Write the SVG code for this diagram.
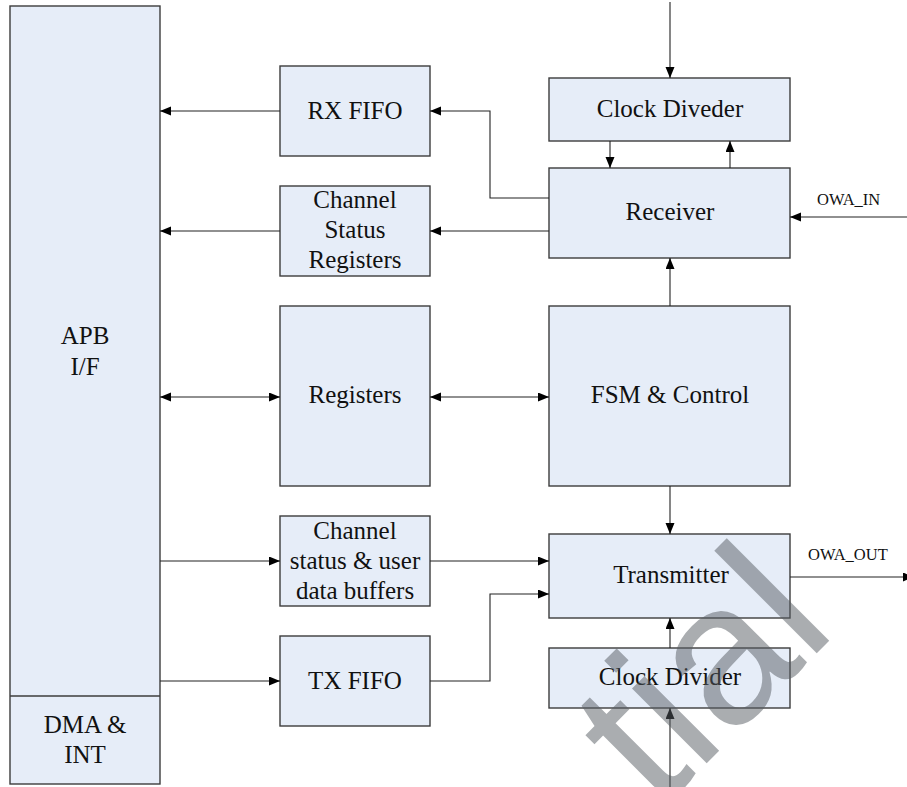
<svg xmlns="http://www.w3.org/2000/svg" width="907" height="787" viewBox="0 0 907 787">
<style>
.box{fill:#E6EDF8;stroke:#3c3c3c;stroke-width:1.4}
.t{font-family:"Liberation Serif","Times New Roman",serif;font-size:25px;fill:#111;text-anchor:middle}
.s{font-family:"Liberation Serif","Times New Roman",serif;font-size:16.5px;fill:#111}
.c{fill:none;stroke:#222;stroke-width:1.1}
</style>
<defs>
<marker id="ah" markerUnits="userSpaceOnUse" markerWidth="12" markerHeight="10" refX="11" refY="4.5" orient="auto-start-reverse">
<path d="M0,0 L11,4.5 L0,9 z" fill="#000"/>
</marker>
</defs>
<rect width="907" height="787" fill="#fff"/>

<g id="apb">
<rect class="box" x="10" y="6" width="150" height="778"/>
<line x1="10" y1="696" x2="160" y2="696" stroke="#3c3c3c" stroke-width="1.4"/>
<text class="t" x="85" y="344">APB</text>
<text class="t" x="85" y="375">I/F</text>
<text class="t" x="85" y="733">DMA &amp;</text>
<text class="t" x="85" y="763">INT</text>
</g>

<g id="rxfifo">
<rect class="box" x="280" y="66" width="150" height="90"/>
<text class="t" x="355" y="119">RX FIFO</text>
</g>

<g id="chstatus">
<rect class="box" x="280" y="186" width="150" height="90"/>
<text class="t" x="355" y="208">Channel</text>
<text class="t" x="355" y="238">Status</text>
<text class="t" x="355" y="268">Registers</text>
</g>

<g id="registers">
<rect class="box" x="280" y="306" width="150" height="180"/>
<text class="t" x="355" y="403">Registers</text>
</g>

<g id="chbuffers">
<rect class="box" x="280" y="516" width="150" height="90"/>
<text class="t" x="355" y="539">Channel</text>
<text class="t" x="355" y="569">status &amp; user</text>
<text class="t" x="355" y="599">data buffers</text>
</g>

<g id="txfifo">
<rect class="box" x="280" y="636" width="150" height="90"/>
<text class="t" x="355" y="689">TX FIFO</text>
</g>

<g id="clkdiveder">
<rect class="box" x="549" y="78" width="241" height="63"/>
<text class="t" x="670" y="117">Clock Diveder</text>
</g>

<g id="receiver">
<rect class="box" x="549" y="168" width="241" height="90"/>
<text class="t" x="670" y="220">Receiver</text>
</g>

<g id="fsm">
<rect class="box" x="549" y="306" width="241" height="180"/>
<text class="t" x="670" y="403">FSM &amp; Control</text>
</g>

<g id="transmitter">
<rect class="box" x="549" y="534" width="241" height="84"/>
<text class="t" x="671" y="583">Transmitter</text>
</g>

<g id="clkdivider">
<rect class="box" x="549" y="648" width="241" height="60"/>
<text class="t" x="670" y="685">Clock Divider</text>
</g>

<g id="connectors">
<line class="c" x1="280" y1="111" x2="160" y2="111" marker-end="url(#ah)"/>
<line class="c" x1="280" y1="231" x2="160" y2="231" marker-end="url(#ah)"/>
<line class="c" x1="160" y1="397" x2="280" y2="397" marker-start="url(#ah)" marker-end="url(#ah)"/>
<line class="c" x1="430" y1="397" x2="549" y2="397" marker-start="url(#ah)" marker-end="url(#ah)"/>
<line class="c" x1="160" y1="561" x2="280" y2="561" marker-end="url(#ah)"/>
<line class="c" x1="160" y1="681" x2="280" y2="681" marker-end="url(#ah)"/>
<polyline class="c" points="549,198 490,198 490,111 430,111" marker-end="url(#ah)"/>
<line class="c" x1="549" y1="231" x2="430" y2="231" marker-end="url(#ah)"/>
<line class="c" x1="670" y1="2" x2="670" y2="78" marker-end="url(#ah)"/>
<line class="c" x1="610" y1="141" x2="610" y2="168" marker-end="url(#ah)"/>
<line class="c" x1="730" y1="168" x2="730" y2="141" marker-end="url(#ah)"/>
<line class="c" x1="907" y1="217" x2="790" y2="217" marker-end="url(#ah)"/>
<line class="c" x1="670" y1="306" x2="670" y2="258" marker-end="url(#ah)"/>
<line class="c" x1="670" y1="486" x2="670" y2="534" marker-end="url(#ah)"/>
<line class="c" x1="430" y1="561" x2="549" y2="561" marker-end="url(#ah)"/>
<polyline class="c" points="430,681 490,681 490,594 549,594" marker-end="url(#ah)"/>
<line class="c" x1="670" y1="648" x2="670" y2="618" marker-end="url(#ah)"/>
<line class="c" x1="670" y1="787" x2="670" y2="708" marker-end="url(#ah)"/>
<line class="c" x1="790" y1="577" x2="914" y2="577" marker-end="url(#ah)"/>
<text class="s" x="817" y="205">OWA_IN</text>
<text class="s" x="808" y="560">OWA_OUT</text>
</g>

<g id="watermark">
<text x="658" y="812" transform="rotate(-45 658 812)" font-family="Liberation Sans, Arial, sans-serif" font-size="200" fill="#555b62" fill-opacity="0.5">tial</text>
</g>
</svg>
